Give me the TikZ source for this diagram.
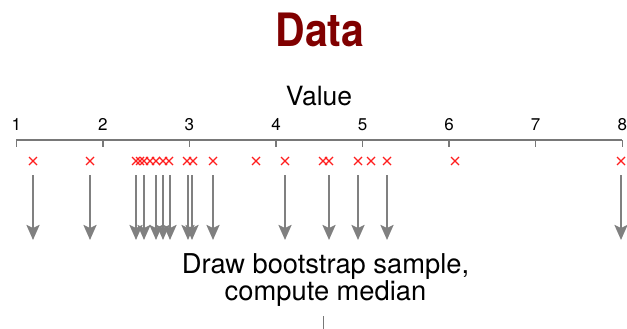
\documentclass[tikz,border=0pt]{standalone}
\usepackage{fontspec}
\setmainfont{TeX Gyre Heros}
\newfontfamily\titlefont[FakeStretch=0.89]{TeX Gyre Heros}
\usetikzlibrary{arrows.meta,calc}
\definecolor{titlered}{RGB}{128,0,0}
\definecolor{axisgray}{RGB}{120,120,120}
\definecolor{arrowgray}{RGB}{128,128,128}
\definecolor{markred}{RGB}{255,30,30}

\tikzset{
  title/.style={inner sep=0pt, anchor=base, text=titlered,
    font=\titlefont\bfseries\fontsize{46}{46}\selectfont},
  label/.style={inner sep=0pt, anchor=base, font=\fontsize{26.5}{26.5}\selectfont},
  ticklabel/.style={inner sep=0pt, anchor=base, font=\fontsize{17}{17}\selectfont},
  axis/.style={draw=axisgray, line width=1.5pt},
  datum/.style={draw=markred, line width=1.1pt},
  sample/.style={draw=arrowgray, line width=2.4pt,
    -{Stealth[length=15pt, width=13pt, inset=3pt]}},
  stepnote/.style={inner sep=0pt, align=center,
    font=\fontsize{27.3}{27}\selectfont},
  lead/.style={draw=axisgray, line width=1pt}
}

\begin{document}
\begin{tikzpicture}[x=1pt, y=-1pt]
\useasboundingbox (0,0) rectangle (627,329);

% heading
\node[title] (head) at (320,47) {Data};

% axis with ticks and labels
\node[label] (axlabel) at (319,106) {Value};
\coordinate (axL) at (16.3,140);
\coordinate (axR) at (622.3,140);
\draw[axis] (axL) -- (axR);
\foreach \v in {1,...,8}{
  \pgfmathsetmacro{\tx}{16.3+86.57*(\v-1)}
  \coordinate (tk\v) at (\tx,140);
  \coordinate (tb\v) at (\tx,146.5);
  \draw[axis] (tk\v) -- (tb\v);
  \node[ticklabel] (tl\v) at (\tx,131) {\v};
}

% observed values
\foreach \x [count=\i] in {33,90,136,140,144,150,156,163,169,187,193,213,256,285,323,329,358,371,387,455,621}{
  \coordinate (d\i) at (\x,161);
  \draw[datum] ($(d\i)+(-4,-4)$) -- ($(d\i)+(4,4)$)
               ($(d\i)+(-4,4)$) -- ($(d\i)+(4,-4)$);
}

% resampled values
\foreach \x [count=\i] in {33,90,136,144,156,163,170,188,192,213,285,329,358,387,621}{
  \coordinate (s\i) at (\x,175);
  \coordinate (t\i) at (\x,240);
  \draw[sample] (s\i) -- (t\i);
}

% next step
\node[stepnote] (step1) at (325.5,280) {Draw bootstrap sample,\\compute median};
\coordinate (up) at (323,316);
\coordinate (down) at (323,330);
\draw[lead] (up) -- (down);
\end{tikzpicture}
\end{document}
